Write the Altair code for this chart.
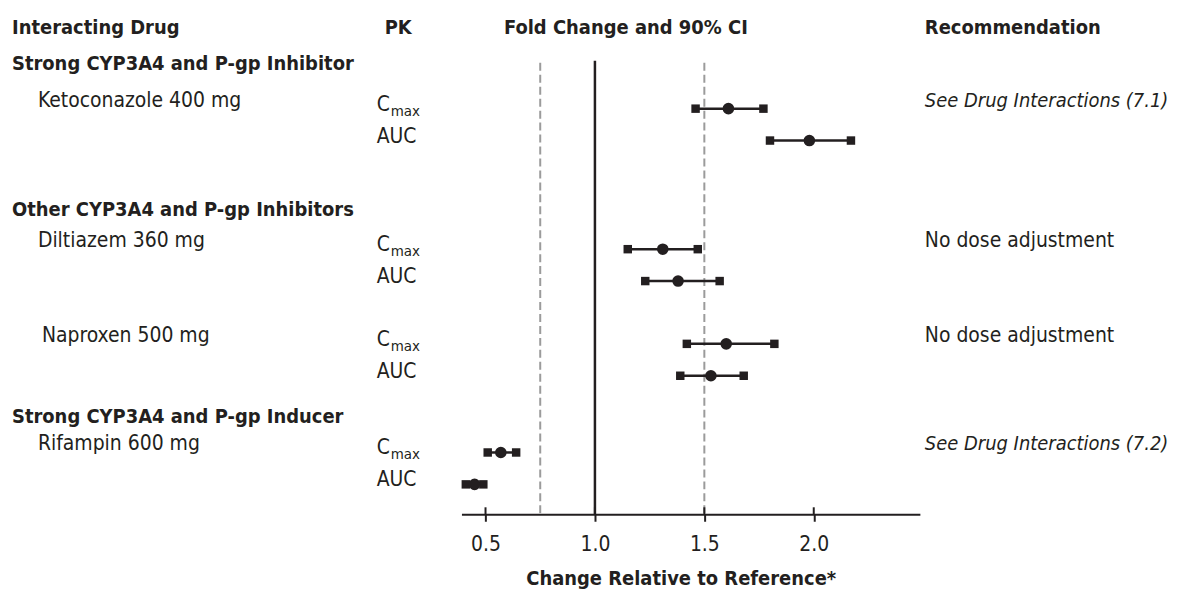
import altair as alt
import pandas as pd

# ---------------- data ----------------
groups = [
    "Strong CYP3A4 and P-gp Inhibitor",
    "Other CYP3A4 and P-gp Inhibitors",
    "Strong CYP3A4 and P-gp Inducer",
]
drugs = ["Ketoconazole 400 mg", "Diltiazem 360 mg", "Naproxen 500 mg", "Rifampin 600 mg"]
recommendations = [
    "See Drug Interactions (7.1)",
    "No dose adjustment",
    "No dose adjustment",
    "See Drug Interactions (7.2)",
]
rec_italic = [True, False, False, True]

cmax_est = [1.61, 1.31, 1.60, 0.57]
cmax_lo = [1.46, 1.15, 1.42, 0.51]
cmax_hi = [1.77, 1.47, 1.82, 0.64]
auc_est = [1.98, 1.38, 1.53, 0.45]
auc_lo = [1.80, 1.23, 1.39, 0.41]
auc_hi = [2.17, 1.57, 1.68, 0.49]

dashed_refs = [0.75, 1.5]
solid_refs = [1.0]
tick_values = [0.5, 1.0, 1.5, 2.0]

headers = ["Interacting Drug", "PK", "Fold Change and 90% CI", "Recommendation"]
x_title = "Change Relative to Reference*"

# ---------------- layout ----------------
W, H = 460, 507
X_DOMAIN = [0.39, 2.485]
FONT = "DejaVu Sans Condensed, Roboto, sans-serif"
INK = "#231f20"
FS_B = 20   # bold text
FS = 21     # regular text
FS_I = 20   # italic text
LEFT = 463  # page x of the plot's left edge

def px(page_x):
    return page_x - LEFT

HEADER_Y = 19
GROUP_Y = [55, 202, 409]
CMAX_Y = [100, 241, 336, 445]
NAME_X = [38, 38, 42, 38]
PAIR_GAP = 32
NAME_DY = -8

xscale = alt.Scale(domain=X_DOMAIN, nice=False, zero=False)
yscale = alt.Scale(domain=[0, H], reverse=True, nice=False, zero=False)

x_axis = alt.Axis(
    values=tick_values, format=".1f", title=x_title, grid=False,
    domainColor=INK, domainWidth=2, tickColor=INK, tickWidth=2, tickSize=7,
    labelFont=FONT, labelFontSize=FS, labelColor=INK, labelPadding=12,
    titleFont=FONT, titleFontSize=FS_B, titleFontWeight="bold", titleColor=INK,
    titlePadding=14, titleX=220,
)

def xenc(field):
    return alt.X(f"{field}:Q", scale=xscale, axis=x_axis)

yenc = alt.Y("y:Q", scale=yscale, axis=None)

# ---------------- tables ----------------
ci_rows = []
for i, d in enumerate(drugs):
    ci_rows.append(dict(drug=d, pk="Cmax", est=cmax_est[i], lo=cmax_lo[i], hi=cmax_hi[i], y=CMAX_Y[i]))
    ci_rows.append(dict(drug=d, pk="AUC", est=auc_est[i], lo=auc_lo[i], hi=auc_hi[i], y=CMAX_Y[i] + PAIR_GAP))
ci = pd.DataFrame(ci_rows)
caps = pd.concat([
    ci[["lo", "y"]].rename(columns={"lo": "v"}),
    ci[["hi", "y"]].rename(columns={"hi": "v"}),
])

# ---------------- layers ----------------
ref_dashed = alt.Chart(pd.DataFrame({"v": dashed_refs})).mark_rule(
    color="#9b9b9b", strokeWidth=2, strokeDash=[8, 4]
).encode(x=xenc("v"), y=alt.value(54), y2=alt.value(H))

ref_solid = alt.Chart(pd.DataFrame({"v": solid_refs})).mark_rule(
    color=INK, strokeWidth=2.5
).encode(x=xenc("v"), y=alt.value(52), y2=alt.value(H))

up_ticks = alt.Chart(pd.DataFrame({"v": tick_values})).mark_rule(
    color=INK, strokeWidth=2
).encode(x=xenc("v"), y=alt.value(H - 7), y2=alt.value(H))

ci_line = alt.Chart(ci).mark_rule(color=INK, strokeWidth=2.5).encode(
    x=xenc("lo"), x2="hi:Q", y=yenc
)
cap_pts = alt.Chart(caps).mark_point(
    shape="square", filled=True, size=72, color=INK, opacity=1
).encode(x=xenc("v"), y=yenc)
est_pts = alt.Chart(ci).mark_circle(size=135, color=INK, opacity=1).encode(
    x=xenc("est"), y=yenc
)

def text_layer(texts, ys, page_x, align="left", size=FS, **kw):
    df = pd.DataFrame({"t": texts, "y": ys})
    return alt.Chart(df).mark_text(
        font=FONT, fontSize=size, color=INK, align=align, baseline="middle", **kw
    ).encode(x=alt.value(px(page_x)), y=yenc, text="t:N")

layers = [ref_dashed, ref_solid, up_ticks, ci_line, cap_pts, est_pts]

# column headers
layers.append(text_layer([headers[0]], [HEADER_Y], 12, size=FS_B, fontWeight="bold"))
layers.append(text_layer([headers[1]], [HEADER_Y], 386, size=FS_B, fontWeight="bold"))
layers.append(text_layer([headers[2]], [HEADER_Y], 628, align="center", size=FS_B, fontWeight="bold"))
layers.append(text_layer([headers[3]], [HEADER_Y], 928, size=FS_B, fontWeight="bold"))

# group titles and drug names
layers.append(text_layer(groups, GROUP_Y, 12, size=FS_B, fontWeight="bold"))
for i, d in enumerate(drugs):
    layers.append(text_layer([d], [CMAX_Y[i] + NAME_DY], NAME_X[i]))

# PK labels
layers.append(text_layer(["C"] * len(drugs), [y - 4 for y in CMAX_Y], 378))
layers.append(text_layer(["max"] * len(drugs), [y + 2 for y in CMAX_Y], 392, size=15))
layers.append(text_layer(["AUC"] * len(drugs), [y + PAIR_GAP - 4 for y in CMAX_Y], 378))

# recommendations
it = [i for i in range(len(drugs)) if rec_italic[i]]
nm = [i for i in range(len(drugs)) if not rec_italic[i]]
layers.append(text_layer([recommendations[i] for i in it], [CMAX_Y[i] + NAME_DY for i in it], 928,
                         size=FS_I, fontStyle="italic"))
layers.append(text_layer([recommendations[i] for i in nm], [CMAX_Y[i] + NAME_DY for i in nm], 928))

chart = alt.layer(*layers).properties(
    width=W, height=H,
    padding={"left": LEFT - 8, "top": 0, "right": 258, "bottom": 80},
    autosize=alt.AutoSizeParams(type="none"),
    background="white",
).configure_view(strokeWidth=0)

chart.save("out.html", embed_options={"renderer": "svg", "actions": False})
